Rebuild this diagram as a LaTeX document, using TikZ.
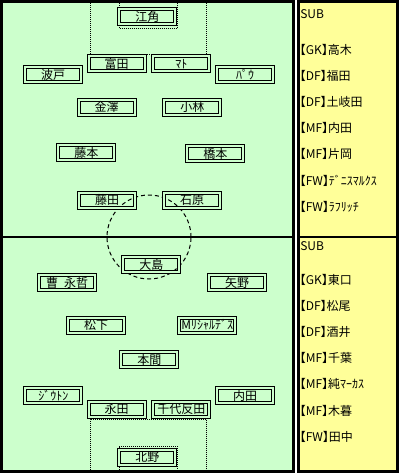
\documentclass[tikz,border=0pt]{standalone}
\usepackage{fontspec}
\setmainfont{Noto Sans CJK JP}
\newfontfamily\benchfont[RawFeature=+halt]{Noto Sans CJK JP}
\usepackage{tikz}
\definecolor{pitchgreen}{HTML}{CCFFCC}
\definecolor{benchyellow}{HTML}{FFFF99}
\tikzset{
  player/.style={draw=black, line width=0.75pt, double=pitchgreen, double distance=1.5pt,
    minimum width=42pt, minimum height=11.25pt, inner sep=0pt, font=\fontsize{9}{9}\selectfont},
  benchname/.style={anchor=west, inner sep=0pt, font=\benchfont\fontsize{9}{9}\selectfont},
  arealine/.style={line width=0.75pt, dash pattern=on 0.75pt off 0.75pt},
  circleline/.style={line width=0.75pt, dash pattern=on 3pt off 2.25pt}
}
\begin{document}
\begin{tikzpicture}[x=0.75pt, y=-0.75pt]
            \useasboundingbox (0,0) rectangle (401,475);

            % pitch and bench
            \draw[line width=2.25pt, fill=pitchgreen] (1.5,1.5) rectangle (293.5,471.5);
            \draw[line width=1.9pt] (1.5,237) -- (293.5,237);
            \draw[line width=2.25pt, fill=benchyellow] (298.5,1.5) rectangle (397,471.5);
            \draw[line width=1.9pt] (298.5,237) -- (397,237);

            % penalty and goal areas
            \draw[arealine] (90,3) -- (90,54) -- (206.5,54) -- (206.5,3);
            \draw[arealine] (119,3) -- (119,28.5) -- (177,28.5) -- (177,3);
            \draw[arealine] (90,470) -- (90,419) -- (206.5,419) -- (206.5,470);
            \draw[arealine] (119,470) -- (119,446) -- (177,446) -- (177,470);
            \draw[circleline] (149,237) circle (31.5pt);

            % top team
            \node[player] (A) at (147.3,16.5) {江角};
            \node[player] (B) at (116.5,63.8) {富田};
            \node[player] (C) at (181.3,63.8) {ﾏﾄ};
            \node[player] (D) at (53.2,74.7) {波戸};
            \node[player] (E) at (245.2,74.7) {ﾊﾟｳ};
            \node[player] (F) at (106.5,107.2) {金澤};
            \node[player] (G) at (192.3,107.2) {小林};
            \node[player] (H) at (86.3,152.7) {藤本};
            \node[player] (I) at (215.3,153.7) {橋本};
            \node[player] (J) at (107.2,200.3) {藤田};
            \node[player] (K) at (192.2,200.3) {石原};

            % bottom team
            \node[player] (L) at (151.3,264.5) {大島};
            \node[player] (M) at (67.2,282.5) {曹\enspace 永哲};
            \node[player] (N) at (237.2,282.5) {矢野};
            \node[player] (O) at (96.2,325) {松下};
            \node[player] (P) at (207.2,325) {Mﾘｼｬﾙﾃﾞｽ};
            \node[player] (Q) at (149.3,359.7) {本間};
            \node[player] (R) at (53.3,395.8) {ｼﾞｳﾄﾝ};
            \node[player] (S) at (245.2,395.8) {内田};
            \node[player] (T) at (116.5,409) {永田};
            \node[player] (U) at (181.3,409) {千代反田};
            \node[player] (V) at (147.3,457) {北野};

            % substitutes
            \node[benchname] (SA) at (300,14) {SUB};
            \node[benchname] (SA1) at (299.5,49.5) {【GK】高木};
            \node[benchname] (SA2) at (299.5,75.7) {【DF】福田};
            \node[benchname] (SA3) at (299.5,101.9) {【DF】土岐田};
            \node[benchname] (SA4) at (299.5,128.1) {【MF】内田};
            \node[benchname] (SA5) at (299.5,154.3) {【MF】片岡};
            \node[benchname] (SA6) at (299.5,180.5) {【FW】ﾃﾞﾆｽﾏﾙｸｽ};
            \node[benchname] (SA7) at (299.5,206.7) {【FW】ﾗﾌﾘｯﾁ};

            \node[benchname] (SB) at (300,245.7) {SUB};
            \node[benchname] (SB1) at (299.5,280) {【GK】東口};
            \node[benchname] (SB2) at (299.5,306.1) {【DF】松尾};
            \node[benchname] (SB3) at (299.5,332.2) {【DF】酒井};
            \node[benchname] (SB4) at (299.5,358.3) {【MF】千葉};
            \node[benchname] (SB5) at (299.5,384.4) {【MF】純ﾏｰｶｽ};
            \node[benchname] (SB6) at (299.5,410.5) {【MF】木暮};
            \node[benchname] (SB7) at (299.5,436.6) {【FW】田中};
        \end{tikzpicture}
\end{document}
